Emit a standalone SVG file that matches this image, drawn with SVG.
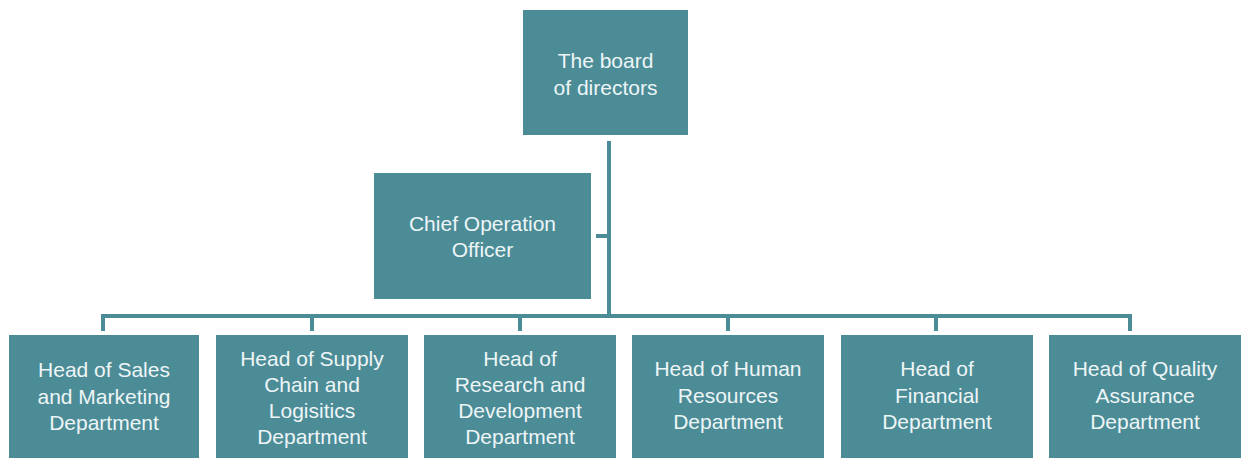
<svg xmlns="http://www.w3.org/2000/svg" width="1241" height="458" viewBox="0 0 1241 458">
  <style>
    .box { fill: #4b8c97; }
    .lbl { fill: #eef5f6; font-family: "Liberation Sans", Arial, sans-serif; font-size: 21px; text-anchor: middle; }
    .wire { fill: none; stroke: #4b8c97; stroke-width: 4; }
  </style>
  <rect width="1241" height="458" fill="#ffffff"/>

  <!-- reporting lines -->
  <g id="connectors">
    <path class="wire" d="M609,141 V316"/>
    <path class="wire" d="M596,236 H609"/>
    <path class="wire" d="M103,331 V316 H1130 V331"/>
    <path class="wire" d="M312,316 V331 M520,316 V331 M728,316 V331 M936,316 V331"/>
  </g>

  <g id="board">
    <rect class="box" x="523" y="10" width="165" height="125"/>
    <text class="lbl" x="605.5" y="68">The board</text>
    <text class="lbl" x="605.5" y="95">of directors</text>
  </g>

  <g id="coo">
    <rect class="box" x="374" y="173" width="217" height="126"/>
    <text class="lbl" x="482.5" y="231">Chief Operation</text>
    <text class="lbl" x="482.5" y="257">Officer</text>
  </g>

  <g id="sales">
    <rect class="box" x="9" y="335" width="190" height="130"/>
    <text class="lbl" x="104" y="377">Head of Sales</text>
    <text class="lbl" x="104" y="404">and Marketing</text>
    <text class="lbl" x="104" y="430">Department</text>
  </g>

  <g id="supply-chain">
    <rect class="box" x="216" y="335" width="192" height="130"/>
    <text class="lbl" x="312" y="366">Head of Supply</text>
    <text class="lbl" x="312" y="392">Chain and</text>
    <text class="lbl" x="312" y="418">Logisitics</text>
    <text class="lbl" x="312" y="444">Department</text>
  </g>

  <g id="research">
    <rect class="box" x="424" y="335" width="192" height="130"/>
    <text class="lbl" x="520" y="366">Head of</text>
    <text class="lbl" x="520" y="392">Research and</text>
    <text class="lbl" x="520" y="418">Development</text>
    <text class="lbl" x="520" y="444">Department</text>
  </g>

  <g id="human-resources">
    <rect class="box" x="632" y="335" width="192" height="130"/>
    <text class="lbl" x="728" y="376">Head of Human</text>
    <text class="lbl" x="728" y="403">Resources</text>
    <text class="lbl" x="728" y="429">Department</text>
  </g>

  <g id="financial">
    <rect class="box" x="841" y="335" width="192" height="130"/>
    <text class="lbl" x="937" y="376">Head of</text>
    <text class="lbl" x="937" y="403">Financial</text>
    <text class="lbl" x="937" y="429">Department</text>
  </g>

  <g id="quality">
    <rect class="box" x="1049" y="335" width="192" height="130"/>
    <text class="lbl" x="1145" y="376">Head of Quality</text>
    <text class="lbl" x="1145" y="403">Assurance</text>
    <text class="lbl" x="1145" y="429">Department</text>
  </g>
</svg>
